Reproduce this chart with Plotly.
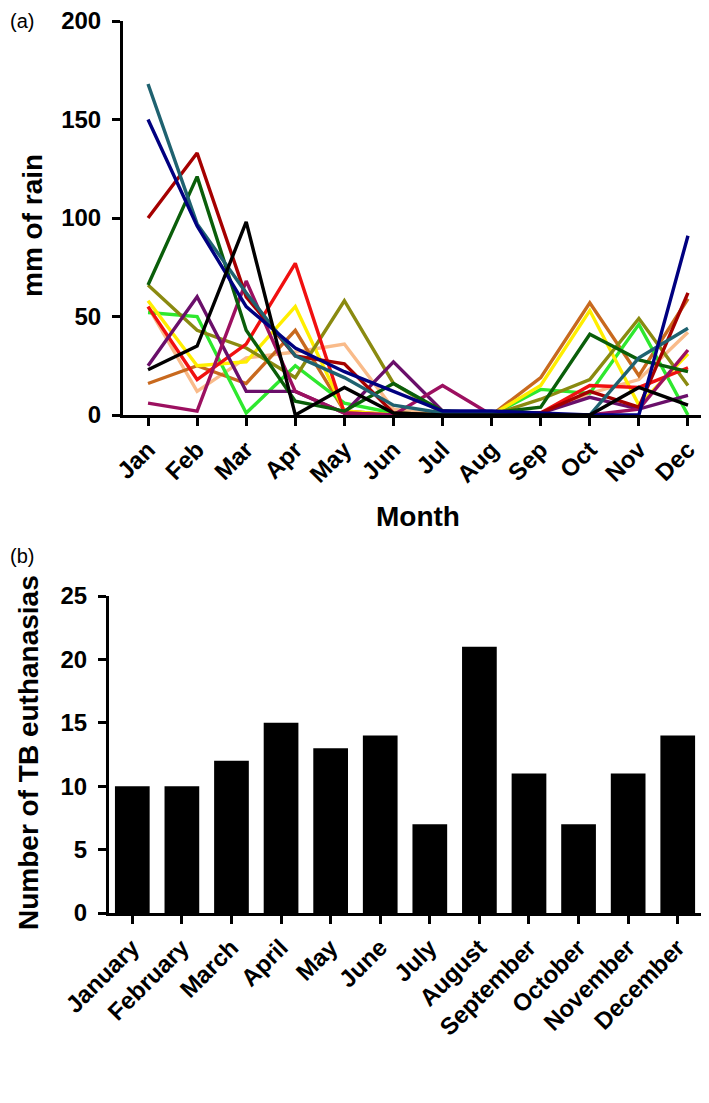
import plotly.graph_objects as go

# ---------------- data ----------------
months_short = ["Jan", "Feb", "Mar", "Apr", "May", "Jun", "Jul", "Aug", "Sep", "Oct", "Nov", "Dec"]
months_long = ["January", "February", "March", "April", "May", "June", "July", "August",
               "September", "October", "November", "December"]

rain_peach = [55, 12, 29, 32, 36, 3, 0, 0, 1, 11, 18, 42]
rain_chocolate = [16, 25, 16, 43, 2, 0, 0, 0, 19, 57, 20, 59]
rain_lime = [52, 50, 1, 25, 6, 1, 0, 0, 13, 11, 46, 0]
rain_yellow = [58, 25, 27, 55, 2, 0, 0, 0, 15, 53, 5, 31]
rain_olive = [66, 43, 34, 19, 58, 16, 1, 0, 8, 18, 49, 15]
rain_red = [55, 18, 36, 77, 1, 0, 0, 0, 1, 15, 14, 24]
rain_purple = [25, 60, 12, 12, 1, 27, 2, 0, 1, 9, 3, 10]
rain_magenta = [6, 2, 68, 12, 1, 0, 15, 0, 0, 0, 3, 33]
rain_darkgreen = [66, 121, 43, 7, 2, 16, 2, 1, 4, 41, 28, 22]
rain_darkred = [100, 133, 60, 30, 26, 1, 0, 0, 1, 12, 4, 62]
rain_teal = [168, 97, 62, 30, 19, 5, 1, 1, 0, 0, 29, 44]
rain_navy = [150, 96, 55, 34, 22, 12, 2, 2, 1, 0, 0, 91]
rain_black = [23, 35, 98, 0, 14, 1, 0, 0, 0, 0, 14, 5]

series = [
    (rain_peach, "#f9bb8a"),
    (rain_chocolate, "#c8691e"),
    (rain_lime, "#2ee82e"),
    (rain_yellow, "#ffee00"),
    (rain_olive, "#8a8a10"),
    (rain_red, "#f01010"),
    (rain_purple, "#6a0f6a"),
    (rain_magenta, "#9c1060"),
    (rain_darkgreen, "#0a5e0a"),
    (rain_darkred, "#a50000"),
    (rain_teal, "#1f6270"),
    (rain_navy, "#000080"),
    (rain_black, "#000000"),
]

tb_euthanasias = [10, 10, 12, 15, 13, 14, 7, 21, 11, 7, 11, 14]

rain_ticks = [0, 50, 100, 150, 200]
tb_ticks = [0, 5, 10, 15, 20, 25]

# ---------------- layout helpers ----------------
W, H = 709, 1103
def px(x):
    return x / W
def py(y):
    return 1 - y / H

FONT = "Arial, Liberation Sans, Helvetica, sans-serif"

fig = go.Figure()

for vals, col in series:
    fig.add_trace(go.Scatter(
        x=months_short, y=vals, mode="lines",
        line=dict(color=col, width=3.4),
        xaxis="x", yaxis="y", showlegend=False, hoverinfo="skip",
    ))

fig.add_trace(go.Bar(
    x=months_long, y=tb_euthanasias, marker=dict(color="#000000", line=dict(width=0)),
    width=0.7, xaxis="x2", yaxis="y2", showlegend=False,
))

axis_common = dict(
    showgrid=False, zeroline=False, showline=True, linecolor="black", linewidth=3,
    ticks="outside", ticklen=8, tickwidth=3, tickcolor="black", automargin=False,
    ticklabeloverflow="allow",
    tickfont=dict(family=FONT, size=24, color="black", weight="bold"),
)

fig.update_layout(
    width=W, height=H, autosize=False,
    margin=dict(l=0, r=0, t=0, b=0),
    plot_bgcolor="white", paper_bgcolor="white",
    bargap=0.3,
    xaxis=dict(
        **axis_common, type="category", range=[-0.51, 11.51],
        domain=[px(115), px(705)], anchor="y", tickangle=-45,
    ),
    yaxis=dict(
        **axis_common, range=[0, 200], tickvals=rain_ticks,
        domain=[py(407), py(13)], anchor="x", ticklabelstandoff=6,
    ),
    xaxis2=dict(
        **axis_common, type="category", range=[-0.47, 11.57],
        domain=[px(101), px(698)], anchor="y2", tickangle=-45,
    ),
    yaxis2=dict(
        **axis_common, range=[0, 25], tickvals=tb_ticks,
        domain=[py(905), py(588)], anchor="x2", ticklabelstandoff=6,
    ),
    annotations=[
        dict(text="(a)", x=0, y=py(13), xref="paper", yref="paper", xanchor="left", yanchor="middle",
             showarrow=False, font=dict(family=FONT, size=20, color="black")),
        dict(text="(b)", x=0, y=py(548), xref="paper", yref="paper", xanchor="left", yanchor="middle",
             showarrow=False, font=dict(family=FONT, size=20, color="black")),
        dict(text="mm of rain", x=px(24), y=py(218), xref="paper", yref="paper", textangle=-90,
             xanchor="center", yanchor="middle", showarrow=False,
             font=dict(family=FONT, size=28, color="black", weight="bold")),
        dict(text="Month", x=px(410), y=py(508), xref="paper", yref="paper",
             xanchor="center", yanchor="middle", showarrow=False,
             font=dict(family=FONT, size=28, color="black", weight="bold")),
        dict(text="Number of TB euthanasias", x=px(20), y=py(745), xref="paper", yref="paper",
             textangle=-90, xanchor="center", yanchor="middle", showarrow=False,
             font=dict(family=FONT, size=28, color="black", weight="bold")),
    ],
)

fig.write_html("out.html")
